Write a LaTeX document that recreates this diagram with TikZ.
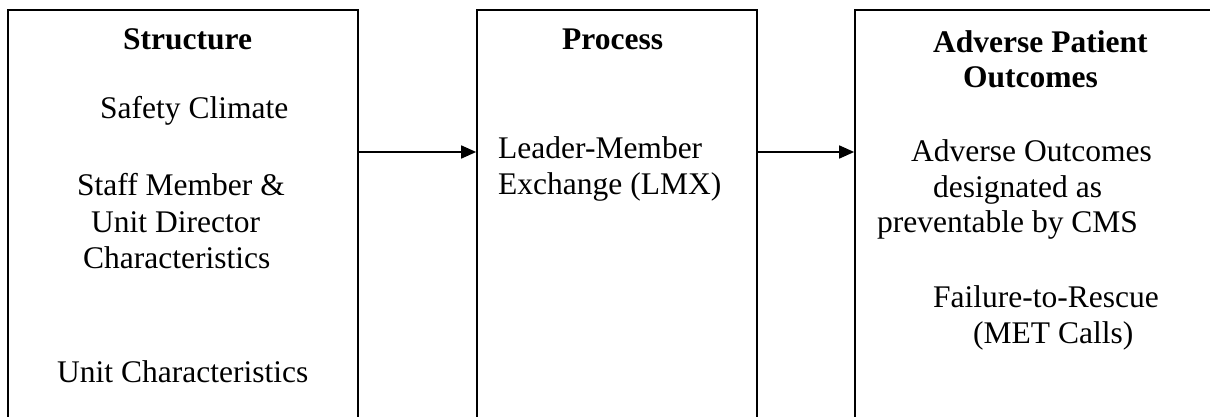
\documentclass[tikz,border=0pt]{standalone}
\usepackage{fontspec}
\setmainfont{Liberation Serif}
\usetikzlibrary{arrows.meta}
\begin{document}
\begin{tikzpicture}[x=1pt, y=-1pt,
  panel/.style={draw, line width=1.7pt, rectangle, inner sep=0pt},
  txt/.style={anchor=base west, inner sep=0pt, font=\fontsize{31.5}{36.5}\selectfont},
  head/.style={txt, font=\fontsize{31.5}{36.5}\selectfont\bfseries},
  arr/.style={line width=1.7pt, -{Triangle[length=15pt, width=13pt]}}]
\useasboundingbox (0,0) rectangle (1210,417);
\clip (0,0) rectangle (1210,417);

% three panels, open at the bottom (and at the right for the last one)
\node[panel, minimum width=350pt, minimum height=440pt] (structure) at (183,230) {};
\node[panel, minimum width=280pt, minimum height=440pt] (process) at (617,230) {};
\node[panel, minimum width=390pt, minimum height=440pt] (outcomes) at (1050,230) {};

% structure panel
\node[head] (sh) at (123,50) {Structure};
\node[txt] (s1) at (100,119) {Safety Climate};
\node[txt] (s2) at (77,195) {Staff Member \&};
\node[txt] (s3) at (91,232) {Unit Director};
\node[txt] (s4) at (83,268) {Characteristics};
\node[txt] (s5) at (57,382) {Unit Characteristics};

% process panel
\node[head] (ph) at (562,50) {Process};
\node[txt] (p1) at (498,158) {Leader-Member};
\node[txt] (p2) at (498,194) {Exchange (LMX)};

% outcomes panel
\node[head] (oh1) at (933,53) {Adverse Patient};
\node[head] (oh2) at (963,88) {Outcomes};
\node[txt] (o1) at (911,161) {Adverse Outcomes};
\node[txt] (o2) at (933,197) {designated as};
\node[txt] (o3) at (877,232) {preventable by CMS};
\node[txt] (o4) at (933,307) {Failure-to-Rescue};
\node[txt] (o5) at (973,343) {(MET Calls)};

% connectors
\coordinate (row) at (0,152);
\draw[arr] (structure.east |- row) -- (process.west |- row);
\draw[arr] (process.east |- row) -- (outcomes.west |- row);
\end{tikzpicture}
\end{document}
